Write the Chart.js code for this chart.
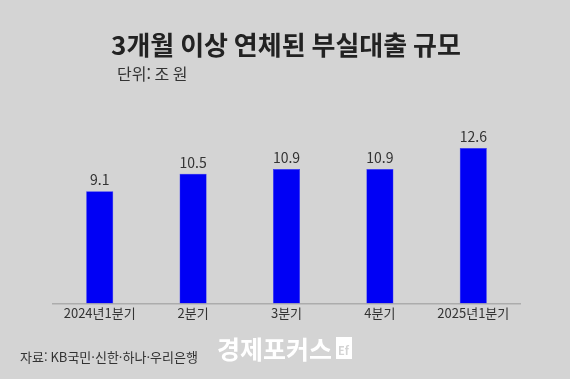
<!DOCTYPE html>
<html lang="ko">
<head>
<meta charset="utf-8">
<script src="https://cdn.jsdelivr.net/npm/chart.js@4/dist/chart.umd.min.js"></script>
<style>
  html, body { margin: 0; padding: 0; background: #d4d4d4; }
  #wrap { width: 570px; height: 379px; position: relative; }
</style>
</head>
<body>
<div id="wrap"><canvas id="chart"></canvas></div>
<script>
// 데이터
const categories = ['2024년1분기', '2분기', '3분기', '4분기', '2025년1분기'];
const loanValues = [9.1, 10.5, 10.9, 10.9, 12.6];
const titleText = '3개월 이상 연체된 부실대출 규모';
const unitText = '단위: 조 원';
const sourceText = '자료: KB국민·신한·하나·우리은행';
const logoText = '경제포커스';

const FONT = '"Noto Sans CJK KR", "Noto Sans", sans-serif';

// 배경, 제목, 출처, 값 라벨
const decorPlugin = {
    id: 'decor',
    beforeDraw(chart) {
        const c = chart.ctx;
        c.save();
        c.fillStyle = '#d4d4d4';
        c.fillRect(0, 0, chart.width, chart.height);
        c.restore();
    },
    afterDraw(chart) {
        const c = chart.ctx;
        c.save();
        c.textBaseline = 'middle';

        c.fillStyle = '#222';
        c.font = 'bold 26px ' + FONT;
        c.textAlign = 'center';
        c.fillText(titleText, 286, 45);

        c.fillStyle = '#333';
        c.font = '16px ' + FONT;
        c.textAlign = 'left';
        c.fillText(unitText, 117, 74);

        c.font = '13px ' + FONT;
        c.fillText(sourceText, 20, 357);

        // 로고
        c.fillStyle = '#ffffff';
        c.font = 'bold 25px ' + FONT;
        c.fillText(logoText, 217, 349);
        c.fillRect(336, 337, 16, 22);
        c.fillStyle = '#d4d4d4';
        c.font = 'bold 11px ' + FONT;
        c.fillText('Ef', 338, 351);

        // 막대 위 값
        const meta = chart.getDatasetMeta(0);
        c.fillStyle = '#333';
        c.font = '14px ' + FONT;
        c.textAlign = 'center';
        meta.data.forEach((bar, i) => {
            c.fillText(loanValues[i].toFixed(1), bar.x, bar.y - 11);
        });
        c.restore();
    }
};

const ctx = document.getElementById('chart').getContext('2d');
new Chart(ctx, {
    type: 'bar',
    data: {
        labels: categories,
        datasets: [{
            data: loanValues,
            backgroundColor: '#0000f5',
            borderColor: '#2a2aff',
            borderWidth: 0.5,
            barPercentage: 0.58,
            categoryPercentage: 0.5
        }]
    },
    options: {
        responsive: true,
        maintainAspectRatio: false,
        animation: false,
        layout: { padding: { left: 53, right: 50, top: 106, bottom: 56 } },
        plugins: {
            legend: { display: false },
            tooltip: { enabled: false }
        },
        scales: {
            x: {
                grid: { display: false, drawTicks: false },
                border: { display: true, color: '#acacac', width: 1.5 },
                ticks: {
                    color: '#333',
                    padding: 2,
                    font: { family: FONT, size: 13 }
                }
            },
            y: {
                display: false,
                min: 0,
                max: 16
            }
        }
    },
    plugins: [decorPlugin]
});
</script>
</body>
</html>
